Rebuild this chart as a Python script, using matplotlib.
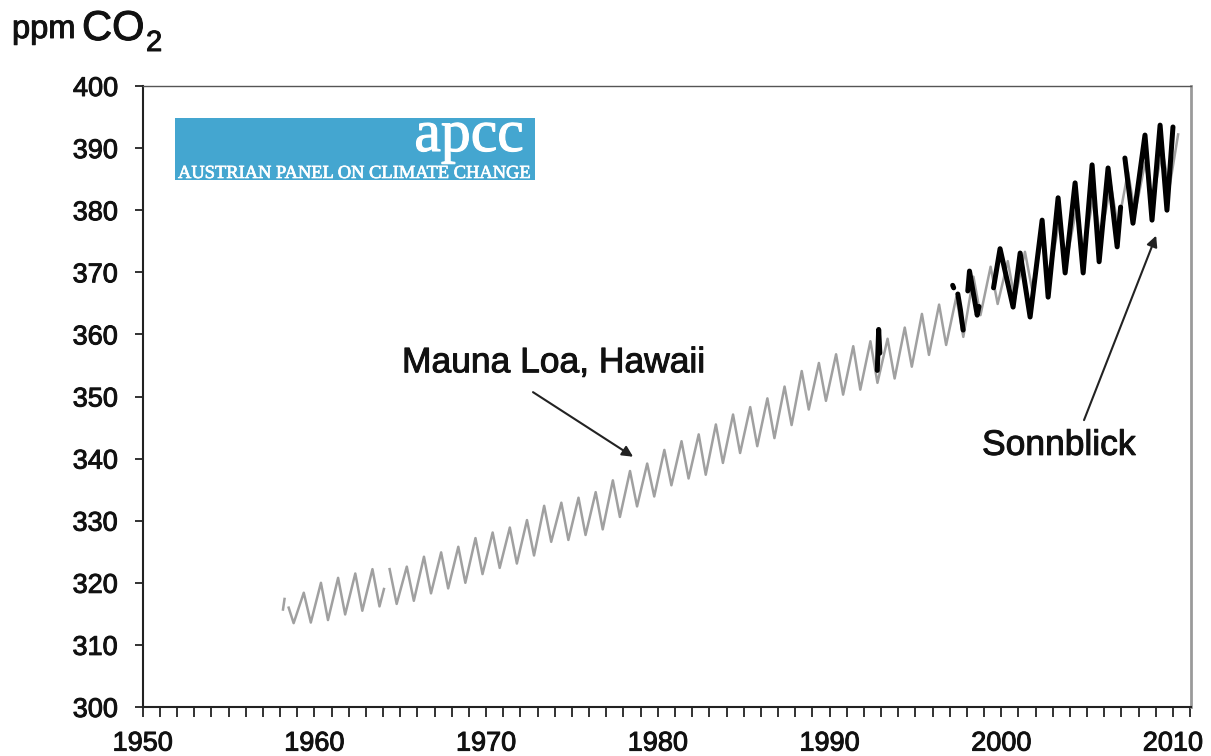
import matplotlib
matplotlib.use("agg")
import matplotlib.pyplot as plt
import matplotlib.patheffects as pe
import numpy as np
from matplotlib.patches import Rectangle

# Mauna Loa monthly record, given as the seasonal maxima (May) and minima (Oct)
ml_peak_years = list(range(1959, 2010))
ml_peak_ppm = [
    318.4, 320.0, 320.8, 321.5, 322.2, 322.2, 322.6, 324.2, 324.9, 325.8,
    327.2, 328.1, 328.9, 330.1, 332.4, 332.9, 333.7, 334.6, 336.5, 338.0,
    339.2, 341.4, 342.8, 343.9, 345.5, 347.1, 348.3, 349.7, 351.6, 354.1,
    355.4, 356.8, 358.1, 358.9, 359.3, 361.1, 363.3, 364.8, 366.0, 369.3,
    370.9, 371.8, 373.3, 375.5, 378.3, 380.3, 382.3, 384.1, 386.2, 387.7,
    389.6,
]
ml_trough_years = list(range(1958, 2010))
ml_trough_ppm = [
    313.5, 313.6, 314.0, 314.9, 315.5, 316.2, 316.6, 317.1, 318.3, 319.1,
    320.0, 321.4, 322.4, 323.1, 324.4, 326.6, 326.9, 327.7, 328.6, 330.6,
    332.3, 333.9, 335.7, 336.8, 337.4, 339.3, 340.9, 342.0, 343.3, 345.4,
    347.9, 349.3, 350.3, 351.1, 352.2, 352.9, 354.8, 356.7, 358.3, 359.6,
    363.1, 364.9, 365.6, 367.3, 369.1, 371.7, 373.2, 375.6, 377.4, 379.5,
    381.4, 383.6,
]
# first months of 1958 and the break in early 1964
ml_start_t = [1958.17, 1958.26, np.nan, 1958.50]
ml_start_ppm = [315.7, 317.4, np.nan, 316.0]
ml_gap_1964_t = [1964.05, np.nan]
ml_gap_1964_ppm = [319.0, np.nan]
ml_end_t = [2010.30]
ml_end_ppm = [392.2]

# Sonnblick (Austria) measurement stretches
sb_t1 = [1992.78, 1992.86, 1992.93]
sb_ppm1 = [354.2, 360.8, 357.0]
sb_t2 = [1997.17, 1997.23]
sb_ppm2 = [367.9, 367.5]
sb_t3 = [1997.47, 1997.62, 1997.78]
sb_ppm3 = [366.5, 364.0, 360.7]
sb_t4 = [1998.05, 1998.15, 1998.60, 1998.70]
sb_ppm4 = [367.0, 370.2, 363.1, 364.5]
sb_t5 = [1999.55, 1999.93, 2000.69, 2001.10, 2001.68, 2002.38, 2002.73,
         2003.31, 2003.72, 2004.30, 2004.77, 2005.29, 2005.70, 2006.22,
         2006.75, 2006.95]
sb_ppm5 = [367.5, 373.8, 364.4, 373.1, 362.8, 378.4, 366.0,
           382.0, 369.9, 384.4, 369.9, 387.3, 371.7, 386.8,
           374.1, 380.5]
sb_t6 = [2007.20, 2007.67, 2008.37, 2008.78, 2009.25, 2009.65, 2010.00]
sb_ppm6 = [388.4, 377.9, 392.1, 378.4, 393.7, 380.0, 393.4]

x_ticks = [1950, 1960, 1970, 1980, 1990, 2000, 2010]
y_ticks = [300, 310, 320, 330, 340, 350, 360, 370, 380, 390, 400]

PEAK_OFFSET = 0.38
TROUGH_OFFSET = 0.79

W, H = 1211, 756
INK = "#111111"
# slightly heavier strokes for text
HEAVY = [pe.withStroke(linewidth=0.7, foreground=INK)]
HEAVY_WHITE = [pe.withStroke(linewidth=0.8, foreground="white")]


def fx(px):
    return px / W


def fy(py):
    return 1 - py / H


def mauna_loa_series():
    t = list(ml_start_t)
    v = list(ml_start_ppm)
    t.append(ml_trough_years[0] + TROUGH_OFFSET)
    v.append(ml_trough_ppm[0])
    for year, peak, trough in zip(ml_peak_years, ml_peak_ppm, ml_trough_ppm[1:]):
        if year == 1964:
            t.extend(ml_gap_1964_t)
            v.extend(ml_gap_1964_ppm)
        t.extend([year + PEAK_OFFSET, year + TROUGH_OFFSET])
        v.extend([peak, trough])
    t.extend(ml_end_t)
    v.extend(ml_end_ppm)
    return np.asarray(t), np.asarray(v)


plt.rcParams["font.family"] = ["Liberation Sans", "DejaVu Sans"]

fig = plt.figure(figsize=(W / 100, H / 100), dpi=100)
ax = fig.add_axes([fx(142.7), fy(707), fx(1191) - fx(142.7), fy(86) - fy(707)])

ml_t, ml_v = mauna_loa_series()
ax.plot(ml_t, ml_v, color="#a0a0a0", lw=1.8, solid_joinstyle="round", zorder=2)

for t, v in [(sb_t1, sb_ppm1), (sb_t2, sb_ppm2), (sb_t3, sb_ppm3),
             (sb_t4, sb_ppm4), (sb_t5, sb_ppm5), (sb_t6, sb_ppm6)]:
    ax.plot(t, v, color="black", lw=3.6, solid_joinstyle="round",
            solid_capstyle="round", zorder=3)

ax.set_xlim(1950, 2011.05)
ax.set_ylim(300, 400)
ax.set_xticks(x_ticks)
ax.set_xticks(np.arange(1950, 2012), minor=True)
ax.set_yticks(y_ticks)
ax.tick_params(axis="x", which="both", direction="out", length=7, width=1.3,
               color="#222222", labelsize=19.5, pad=10, labelcolor=INK)
ax.tick_params(axis="y", direction="out", length=5.8, width=1.3,
               color="#222222", labelsize=19.5, pad=12, labelcolor=INK)
for label in ax.get_xticklabels() + ax.get_yticklabels():
    label.set_path_effects(HEAVY)
for side in ("left", "bottom"):
    ax.spines[side].set_linewidth(1.5)
    ax.spines[side].set_color("#222222")
ax.spines["top"].set_linewidth(1.0)
ax.spines["top"].set_color("#555555")
ax.spines["right"].set_linewidth(2.0)
ax.spines["right"].set_color("#9a9a9a")

# annotations
ax.annotate("", xy=(1978.56, 340.3), xytext=(1972.73, 350.7),
            arrowprops=dict(arrowstyle="-|>", lw=1.5, color="#222222",
                            mutation_scale=16, shrinkA=0, shrinkB=0))
ax.text(1965.1, 353.9, "Mauna Loa, Hawaii", fontsize=25.5, va="baseline",
        ha="left", color=INK, path_effects=HEAVY)
ax.annotate("", xy=(2009.02, 375.9), xytext=(2004.82, 346.2),
            arrowprops=dict(arrowstyle="-|>", lw=1.5, color="#222222",
                            mutation_scale=16, shrinkA=0, shrinkB=0))
ax.text(1998.88, 340.6, "Sonnblick", fontsize=25.5, va="baseline",
        ha="left", color=INK, path_effects=HEAVY)

# unit label
fig.text(fx(12), fy(38), "ppm", fontsize=23.5, va="baseline", ha="left",
         color=INK, path_effects=HEAVY)
fig.text(fx(82), fy(40), "CO", fontsize=30, va="baseline", ha="left",
         color=INK, path_effects=HEAVY)
fig.text(fx(146), fy(51), "2", fontsize=21, va="baseline", ha="left",
         color=INK, path_effects=HEAVY)

# APCC banner
fig.add_artist(Rectangle((fx(175), fy(180)), fx(535) - fx(175),
                         fy(118) - fy(180), transform=fig.transFigure,
                         facecolor="#44a6d0", edgecolor="none", zorder=5))
fig.text(fx(524), fy(151), "apcc", fontsize=43, family="Liberation Serif",
         color="white", va="baseline", ha="right", zorder=6,
         path_effects=HEAVY_WHITE)
fig.text(fx(178), fy(178), "AUSTRIAN PANEL ON CLIMATE CHANGE", fontsize=13.3,
         family="Liberation Serif", color="white", va="baseline", ha="left",
         zorder=6, path_effects=[pe.withStroke(linewidth=0.5,
                                               foreground="white")])

fig.savefig("out.png", dpi=100)
